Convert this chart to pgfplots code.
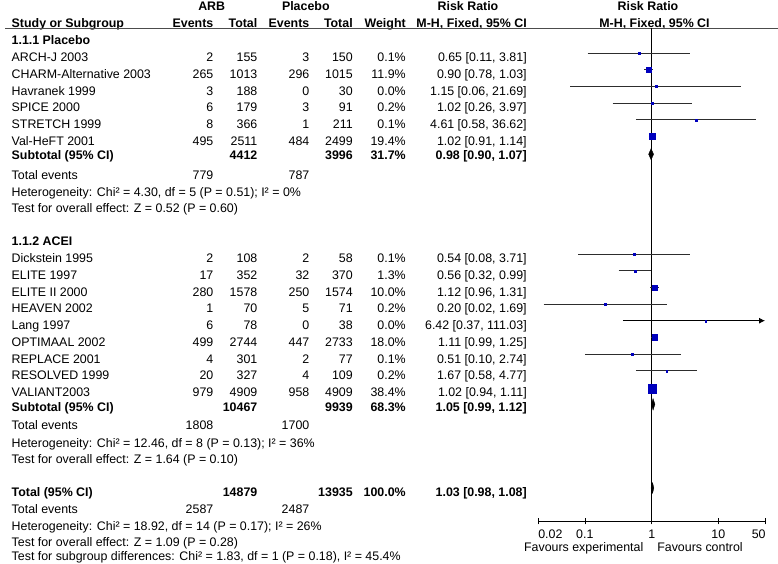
\documentclass[border=0pt]{standalone}
\usepackage{fontspec}
\setmainfont{Liberation Sans}
\usepackage{pgfplots}
\pgfplotsset{compat=1.18}
\usepackage{pgfplotstable}
\usetikzlibrary{arrows.meta}
\definecolor{sqblue}{RGB}{0,0,190}
\definecolor{cigray}{RGB}{45,45,45}

% y = - pixel row of the marker, rr, lower, upper, m = half side of square
\pgfplotstableread{
y      rr    lo    hi     m
-53.1  0.65  0.11  3.81   0.9
-69.8  0.90  0.78  1.03   2.5
-86.5  1.15  0.06  21.69  0.9
-103.2 1.02  0.26  3.97   0.9
-119.8 4.61  0.58  36.62  0.9
-136.5 1.02  0.91  1.14   3.0
-254.0 0.54  0.08  3.71   0.9
-270.7 0.56  0.32  0.99   1.1
-287.4 1.12  0.96  1.31   2.35
-304.0 0.20  0.024 1.69   0.9
-320.7 6.42  0.37  111.03 0.9
-337.4 1.11  0.99  1.25   2.85
-354.0 0.51  0.10  2.74   0.9
-370.7 1.67  0.58  4.77   0.9
-388.4 1.02  0.94  1.11   4.2
}\studies

\newcommand\row[8]{%
  \node[anchor=base west] at (11.7,#1) {#2};
  \node[anchor=base east] at (213.3,#1) {#3};
  \node[anchor=base east] at (257.3,#1) {#4};
  \node[anchor=base east] at (309.3,#1) {#5};
  \node[anchor=base east] at (352.7,#1) {#6};
  \node[anchor=base east] at (405.7,#1) {#7};
  \node[anchor=base east] at (526.7,#1) {#8};}

\begin{document}
\fontsize{12.4}{14}\selectfont
\begin{tikzpicture}[x=1pt,y=-1pt,every node/.style={inner sep=0pt,outer sep=0pt,font=\fontsize{12.4}{14}\selectfont}]
\path[use as bounding box] (0,0) rectangle (778,564);

% header
\begin{scope}[every node/.append style={font=\fontsize{12.4}{14}\selectfont\bfseries}]
\node[anchor=base] at (211.7,10.2) {ARB};
\node[anchor=base] at (305.8,10.2) {Placebo};
\node[anchor=base] at (468,10.2) {Risk Ratio};
\node[anchor=base] at (648,10.2) {Risk Ratio};
\row{27.2}{Study or Subgroup}{Events}{Total}{Events}{Total}{Weight}{M-H, Fixed, 95\% CI}
\node[anchor=base] at (654.5,27.2) {M-H, Fixed, 95\% CI};
\node[anchor=base west] at (11.7,44.5) {1.1.1 Placebo};
\node[anchor=base west] at (11.7,245.2) {1.1.2 ACEI};
\end{scope}
\draw[line width=1.1pt, black!70] (5,28.2) -- (778,28.2);

% subgroup 1
\row{61.8}{ARCH-J 2003}{2}{155}{3}{150}{0.1\%}{0.65 [0.11, 3.81]}
\row{78.5}{CHARM-Alternative 2003}{265}{1013}{296}{1015}{11.9\%}{0.90 [0.78, 1.03]}
\row{95.2}{Havranek 1999}{3}{188}{0}{30}{0.0\%}{1.15 [0.06, 21.69]}
\row{111.9}{SPICE 2000}{6}{179}{3}{91}{0.2\%}{1.02 [0.26, 3.97]}
\row{128.6}{STRETCH 1999}{8}{366}{1}{211}{0.1\%}{4.61 [0.58, 36.62]}
\row{145.3}{Val-HeFT 2001}{495}{2511}{484}{2499}{19.4\%}{1.02 [0.91, 1.14]}
\begin{scope}[every node/.append style={font=\fontsize{12.4}{14}\selectfont\bfseries}]
\row{159.8}{Subtotal (95\% CI)}{}{4412}{}{3996}{31.7\%}{0.98 [0.90, 1.07]}
\end{scope}
\row{179.2}{Total events}{779}{}{787}{}{}{}
\node[anchor=base west] at (11.7,196.6) {Heterogeneity: Chi² = 4.30, df = 5 (P = 0.51); I² = 0\%};
\node[anchor=base west] at (11.7,212.8) {Test for overall effect: Z = 0.52 (P = 0.60)};

% subgroup 2
\row{262.8}{Dickstein 1995}{2}{108}{2}{58}{0.1\%}{0.54 [0.08, 3.71]}
\row{279.5}{ELITE 1997}{17}{352}{32}{370}{1.3\%}{0.56 [0.32, 0.99]}
\row{296.2}{ELITE II 2000}{280}{1578}{250}{1574}{10.0\%}{1.12 [0.96, 1.31]}
\row{312.9}{HEAVEN 2002}{1}{70}{5}{71}{0.2\%}{0.20 [0.02, 1.69]}
\row{329.6}{Lang 1997}{6}{78}{0}{38}{0.0\%}{6.42 [0.37, 111.03]}
\row{346.3}{OPTIMAAL 2002}{499}{2744}{447}{2733}{18.0\%}{1.11 [0.99, 1.25]}
\row{363.0}{REPLACE 2001}{4}{301}{2}{77}{0.1\%}{0.51 [0.10, 2.74]}
\row{379.7}{RESOLVED 1999}{20}{327}{4}{109}{0.2\%}{1.67 [0.58, 4.77]}
\row{396.4}{VALIANT2003}{979}{4909}{958}{4909}{38.4\%}{1.02 [0.94, 1.11]}
\begin{scope}[every node/.append style={font=\fontsize{12.4}{14}\selectfont\bfseries}]
\row{411.2}{Subtotal (95\% CI)}{}{10467}{}{9939}{68.3\%}{1.05 [0.99, 1.12]}
\end{scope}
\row{429.5}{Total events}{1808}{}{1700}{}{}{}
\node[anchor=base west] at (11.7,447.2) {Heterogeneity: Chi² = 12.46, df = 8 (P = 0.13); I² = 36\%};
\node[anchor=base west] at (11.7,463.8) {Test for overall effect: Z = 1.64 (P = 0.10)};

% overall
\begin{scope}[every node/.append style={font=\fontsize{12.4}{14}\selectfont\bfseries}]
\row{496.2}{Total (95\% CI)}{}{14879}{}{13935}{100.0\%}{1.03 [0.98, 1.08]}
\end{scope}
\row{513.8}{Total events}{2587}{}{2487}{}{}{}
\node[anchor=base west] at (11.7,530.8) {Heterogeneity: Chi² = 18.92, df = 14 (P = 0.17); I² = 26\%};
\node[anchor=base west] at (11.7,546.4) {Test for overall effect: Z = 1.09 (P = 0.28)};
\node[anchor=base west] at (11.7,560.8) {Test for subgroup differences: Chi² = 1.83, df = 1 (P = 0.18), I² = 45.4\%};

\begin{axis}[
  at={(538.3pt,-28.2pt)}, anchor=north west,
  scale only axis, width=226.7pt, height=492.8pt,
  xmode=log, xmin=0.02, xmax=50, ymin=-521, ymax=-28.2,
  axis x line=bottom, axis y line=none,
  axis line style={-, black, line width=0.8pt},
  xtick={0.02,0.1,1,10,50}, xticklabels={}, xminorticks=false,
  ytick=\empty,
  tick align=center, major tick length=6.6pt,
  tick style={black, line width=0.8pt},
  clip=false,
]
\addplot[black, line width=0.8pt] coordinates {(1,-28.2) (1,-521)};
% confidence intervals
\addplot[cigray, line width=0.8pt] coordinates {(0.11,-53.1) (3.81,-53.1)};
\addplot[cigray, line width=0.8pt] coordinates {(0.78,-69.8) (1.03,-69.8)};
\addplot[cigray, line width=0.8pt] coordinates {(0.06,-86.5) (21.69,-86.5)};
\addplot[cigray, line width=0.8pt] coordinates {(0.26,-103.2) (3.97,-103.2)};
\addplot[cigray, line width=0.8pt] coordinates {(0.58,-119.8) (36.62,-119.8)};
\addplot[cigray, line width=0.8pt] coordinates {(0.91,-136.5) (1.14,-136.5)};
\addplot[cigray, line width=0.8pt] coordinates {(0.08,-254.0) (3.71,-254.0)};
\addplot[cigray, line width=0.8pt] coordinates {(0.32,-270.7) (0.99,-270.7)};
\addplot[cigray, line width=0.8pt] coordinates {(0.96,-287.4) (1.31,-287.4)};
\addplot[cigray, line width=0.8pt] coordinates {(0.024,-304.0) (1.69,-304.0)};
\addplot[black, line width=0.8pt, -{Latex[length=6pt,width=6pt]}] coordinates {(0.37,-320.7) (50,-320.7)};
\addplot[cigray, line width=0.8pt] coordinates {(0.99,-337.4) (1.25,-337.4)};
\addplot[cigray, line width=0.8pt] coordinates {(0.10,-354.0) (2.74,-354.0)};
\addplot[cigray, line width=0.8pt] coordinates {(0.58,-370.7) (4.77,-370.7)};
\addplot[cigray, line width=0.8pt] coordinates {(0.94,-388.4) (1.11,-388.4)};
% weighted squares
\addplot[only marks, mark=square*, scatter,
  scatter/use mapped color={draw=sqblue, fill=sqblue},
  mark options={line width=0.2pt},
  visualization depends on={\thisrow{m} \as \msize},
  scatter/@pre marker code/.append style={/tikz/mark size=\msize}]
  table[x=rr, y=y] {\studies};
% pooled diamonds
\addplot[fill=black, draw=black, line width=0.3pt] coordinates {(0.90,-154.2) (0.98,-148.6) (1.07,-154.2) (0.98,-159.8) (0.90,-154.2)};
\addplot[fill=black, draw=black, line width=0.3pt] coordinates {(0.99,-404.3) (1.05,-398.5) (1.12,-404.3) (1.05,-410.1) (0.99,-404.3)};
\addplot[fill=black, draw=black, line width=0.3pt] coordinates {(0.98,-488.0) (1.03,-482.6) (1.08,-488.0) (1.03,-493.4) (0.98,-488.0)};
\end{axis}

% tick labels and favours labels
\node[anchor=base west] at (538.3,538.3) {0.02};
\node[anchor=base] at (584.8,538.3) {0.1};
\node[anchor=base] at (651.7,538.3) {1};
\node[anchor=base] at (718.3,538.3) {10};
\node[anchor=base east] at (765.6,538.3) {50};
\node[anchor=base east] at (643.3,551.9) {Favours experimental};
\node[anchor=base west] at (657.3,551.9) {Favours control};
\end{tikzpicture}
\end{document}
